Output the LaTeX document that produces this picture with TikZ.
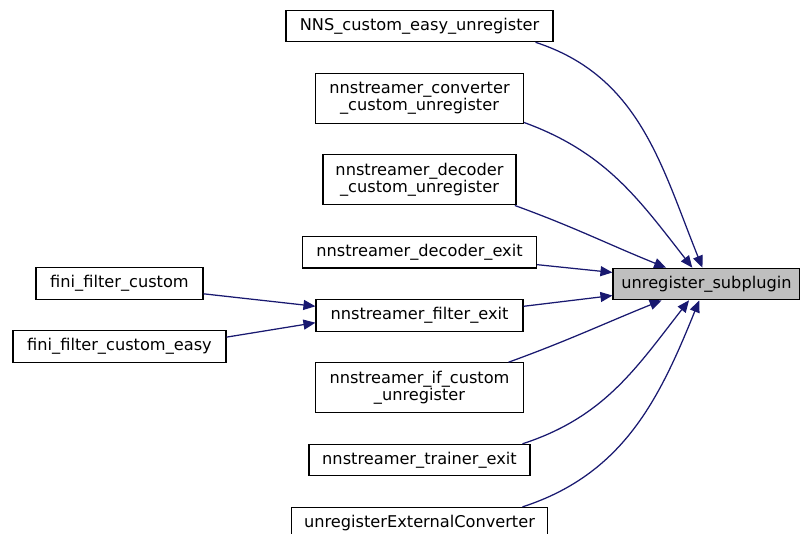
\documentclass[tikz,border=0pt]{standalone}
\usepackage{fontspec}
\setmainfont{DejaVu Sans}
\usepackage{xcolor}
\usetikzlibrary{arrows.meta,positioning}
\definecolor{edgeblue}{HTML}{191970}
\tikzset{
  callbox/.style={
    draw,
    align=center,
    minimum height=31.5pt,
    inner xsep=4pt,
    inner ysep=2pt,
    line width=1.1pt,
    font=\fontsize{16.2}{17.5}\selectfont
  },
  callbox2/.style={callbox, minimum height=50pt},
  callarrow/.style={-{Triangle[length=12pt,width=10pt]}, edgeblue, line width=1.25pt}
}

\begin{document}
\begin{tikzpicture}[x=1pt, y=1pt, node distance=30.5pt]
  \useasboundingbox (0,0) rectangle (800,-534);
  \clip (0,0) rectangle (800,-534);

  \node[callbox, minimum width=267pt] (nns) at (419.5,-26) {NNS\_custom\_easy\_unregister};
  \node[callbox2, minimum width=208pt, below=of nns] (conv) {nnstreamer\_converter\\\_custom\_unregister};
  \node[callbox2, minimum width=193pt, below=of conv] (decc) {nnstreamer\_decoder\\\_custom\_unregister};
  \node[callbox, minimum width=234pt, below=of decc] (dexit) {nnstreamer\_decoder\_exit};
  \node[callbox, minimum width=207pt, below=of dexit] (fexit) {nnstreamer\_filter\_exit};
  \node[callbox2, minimum width=208pt, below=of fexit] (ifc) {nnstreamer\_if\_custom\\\_unregister};
  \node[callbox, minimum width=221pt, below=of ifc] (trainer) {nnstreamer\_trainer\_exit};
  \node[callbox, minimum width=256pt, below=of trainer] (ext) {unregisterExternalConverter};

  \node[callbox, minimum width=167pt] (ffc) at (119.5,-283.5) {fini\_filter\_custom};
  \node[callbox, minimum width=213pt] (ffce) at (119.5,-346.5) {fini\_filter\_custom\_easy};

  \node[callbox, minimum width=187pt, fill=gray!50] (sub) at (706.5,-284) {unregister\_subplugin};

  \draw[callarrow] (nns.-8.8) to[out=-18, in=112] (sub.104);
  \draw[callarrow] (conv.-13.8) to[out=-20, in=128] (sub.131);
  \draw[callarrow] (decc.-15.9) to[out=-20, in=158] (sub.158);
  \draw[callarrow] (dexit.-6.6) -- (sub.173);
  \draw[callarrow] (fexit.5.5) -- (sub.187);
  \draw[callarrow] (ifc.16.4) to[out=20, in=202] (sub.200);
  \draw[callarrow] (trainer.9.5) to[out=18, in=232] (sub.223);
  \draw[callarrow] (ext.9.1) to[out=18, in=248] (sub.246);
  \draw[callarrow] (ffc.-7.2) -- (fexit.175.6);
  \draw[callarrow] (ffce.5.6) -- (fexit.184.4);
\end{tikzpicture}
\end{document}
